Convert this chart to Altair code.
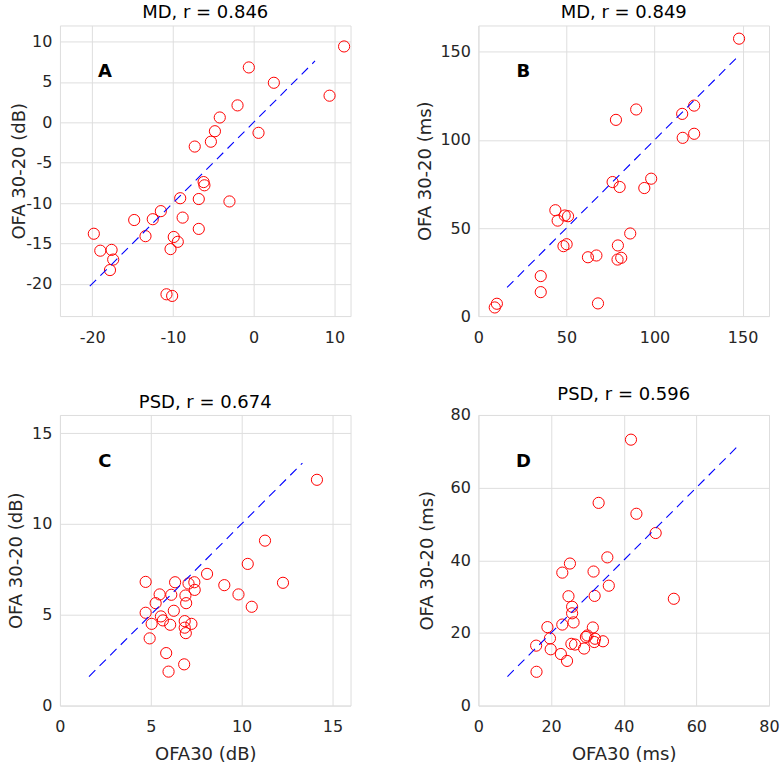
import altair as alt
import pandas as pd

FONT = "DejaVu Sans"

# Panel A: MD (dB)
a_x = [11.2, -0.6, 2.5, 9.4, -2.0, -4.2, -4.8, 0.6, -5.3, -7.3, -6.2, -6.1, -9.1, -6.8, -3.0,
       -11.5, -14.8, -12.5, -8.8, -6.8, -19.8, -13.4, -9.9, -9.4, -19.0, -17.6, -10.3, -17.4,
       -17.8, -10.8, -10.1]
a_y = [9.4, 6.8, 4.9, 3.3, 2.1, 0.6, -1.1, -1.3, -2.4, -3.0, -7.4, -7.8, -9.4, -9.5, -9.8,
       -11.0, -12.1, -12.0, -11.8, -13.2, -13.8, -14.1, -14.2, -14.8, -15.9, -15.8, -15.7, -17.0,
       -18.3, -21.3, -21.5]
a_line = [-20.3, 7.6]

# Panel B: MD (ms)
b_x = [148.0, 122.5, 115.7, 89.6, 78.1, 116.0, 122.5, 98.1, 94.2, 76.2, 80.2, 43.7, 45.0, 49.0,
       50.9, 86.2, 79.2, 48.3, 50.1, 62.2, 67.0, 79.0, 81.1, 35.4, 35.4, 67.9, 9.3, 10.5]
b_y = [157.5, 119.5, 114.8, 117.3, 111.4, 101.2, 103.5, 78.0, 72.7, 76.1, 73.3, 60.1, 54.2, 57.1,
       56.7, 46.9, 40.1, 39.7, 40.8, 33.4, 34.4, 32.1, 33.1, 22.7, 13.6, 7.2, 4.9, 7.0]
b_line = [16.3, 146.5]

# Panel C: PSD (dB)
c_x = [14.15, 11.29, 10.34, 12.28, 8.1, 9.05, 9.83, 10.56, 4.72, 6.34, 7.08, 7.4, 7.42, 5.49,
       6.13, 6.91, 6.95, 5.27, 6.27, 4.72, 5.56, 5.67, 5.05, 6.07, 6.87, 7.24, 6.87, 6.93, 4.94,
       5.85, 6.84, 5.98]
c_y = [12.43, 9.08, 7.8, 6.76, 7.25, 6.63, 6.12, 5.44, 6.81, 6.79, 6.72, 6.79, 6.37, 6.12,
       6.1, 6.06, 5.64, 5.64, 5.22, 5.11, 4.91, 4.69, 4.5, 4.45, 4.65, 4.5, 4.29, 3.99, 3.7,
       2.89, 2.27, 1.87]
c_line = [1.6, 13.35]

# Panel D: PSD (ms)
d_x = [42.0, 33.1, 43.5, 48.8, 35.5, 25.2, 23.1, 31.7, 35.9, 24.8, 32.0, 53.8, 25.8, 25.8, 26.2,
       23.1, 19.0, 31.5, 19.7, 30.0, 29.6, 32.1, 34.3, 31.9, 15.9, 25.6, 26.6, 19.9, 29.1, 22.7,
       24.4, 16.0]
d_y = [73.2, 55.8, 52.8, 47.5, 40.8, 39.1, 36.6, 36.9, 33.0, 30.1, 30.2, 29.4, 27.2, 25.4, 22.9,
       22.3, 21.6, 21.5, 18.5, 19.3, 18.9, 18.4, 17.7, 17.5, 16.5, 17.0, 16.8, 15.5, 15.7, 14.2,
       12.3, 9.3]
d_line = [8.0, 71.0]

W = 291
H = 291


def axis(values, label_pad, title_pad):
    return alt.Axis(values=values, labelExpr="'' + datum.value", ticks=False, tickSize=0,
                    labelPadding=label_pad, labelFontSize=16, labelFont=FONT,
                    labelFlush=False, labelOverlap=False,
                    labelColor="#262626", gridColor="#dedede", gridWidth=1, domain=False,
                    titleFontSize=18, titleFont=FONT, titleFontWeight="normal",
                    titleColor="#262626", titlePadding=title_pad)


def panel(x, y, line, xdom, ydom, xticks, yticks, title, letter, xtitle, ytitle, ytpad):
    df = pd.DataFrame({"x": x, "y": y})
    ld = pd.DataFrame({"lx": line, "ly": line})
    xs = alt.Scale(domain=xdom, nice=False, zero=False)
    ys = alt.Scale(domain=ydom, nice=False, zero=False)
    xax = axis(xticks, 13, 11)
    yax = axis(yticks, 8, ytpad)
    if xtitle is None:
        xenc = alt.X("x:Q", scale=xs, axis=xax, title=None)
    else:
        xenc = alt.X("x:Q", scale=xs, axis=xax, title=xtitle)
    yenc = alt.Y("y:Q", scale=ys, axis=yax, title=ytitle)
    pts = alt.Chart(df).mark_point(shape="circle", filled=False, stroke="#ff0000",
                                   size=125, strokeWidth=1, opacity=1).encode(
        x=xenc, y=yenc, color=alt.value("#ff0000"))
    ln = alt.Chart(ld).mark_line(stroke="#0000ff", strokeDash=[9, 6], strokeWidth=1.1).encode(
        x=alt.X("lx:Q", scale=xs), y=alt.Y("ly:Q", scale=ys), color=alt.value("#0000ff"))
    txt = alt.Chart(pd.DataFrame({"t": [letter]})).mark_text(
        fontWeight="bold", fontSize=18, font=FONT
    ).encode(text="t:N", x=alt.value(45), y=alt.value(47), color=alt.value("#000000"))
    return alt.layer(pts, ln, txt).properties(
        width=W, height=H,
        title=alt.TitleParams(title, fontSize=18, fontWeight="normal", font=FONT,
                              color="#000000", offset=3))


A = panel(a_x, a_y, a_line, [-24, 12], [-24, 12], [-20, -10, 0, 10],
          [-20, -15, -10, -5, 0, 5, 10], "MD, r = 0.846", "A", None, "OFA 30-20 (dB)", -3)
B = panel(b_x, b_y, b_line, [0, 165], [0, 165], [0, 50, 100, 150], [0, 50, 100, 150],
          "MD, r = 0.849", "B", None, "OFA 30-20 (ms)", 5)
C = panel(c_x, c_y, c_line, [0, 16], [0, 16], [0, 5, 10, 15], [0, 5, 10, 15],
          "PSD, r = 0.674", "C", "OFA30 (dB)", "OFA 30-20 (dB)", 6)
D = panel(d_x, d_y, d_line, [0, 80], [0, 80], [0, 20, 40, 60, 80], [0, 20, 40, 60, 80],
          "PSD, r = 0.596", "D", "OFA30 (ms)", "OFA 30-20 (ms)", 14)

chart = alt.concat(
    A, B, C, D, columns=2, spacing={"row": 39, "column": 63}
).properties(
    padding={"left": 7, "top": 3, "right": 0, "bottom": 0}
).configure_view(
    stroke="#404040", strokeWidth=1
).configure(background="white")

chart.save("out.html", embed_options={"renderer": "svg", "actions": False})
